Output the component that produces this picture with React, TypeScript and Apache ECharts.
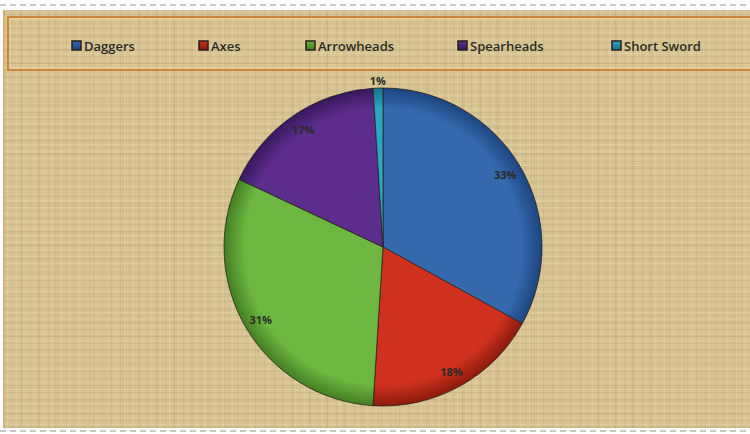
import React, { useEffect, useRef } from "react";
import * as echarts from "echarts";

const categories = ["Daggers", "Axes", "Arrowheads", "Spearheads", "Short Sword"];
const shares = [33, 18, 31, 17, 1];
const baseColors = ["#3568ad", "#cf311e", "#6db741", "#5c2d8d", "#2ca6c4"];
const rimColors = ["#1d4680", "#8c1a0e", "#447f23", "#371a5e", "#16708a"];
const legendLeft = [71, 198, 305, 457, 611];

const CX = 383;
const CY = 247;
const R = 159;

export default function App() {
  const ref = useRef<HTMLDivElement>(null);
  useEffect(() => {
    if (!ref.current) return;
    const chart = echarts.init(ref.current, undefined, { renderer: "svg" });
    const fill = (i: number) => ({
      type: "radial",
      x: CX,
      y: CY,
      r: R,
      global: true,
      colorStops: [
        { offset: 0, color: baseColors[i] },
        { offset: 0.87, color: baseColors[i] },
        { offset: 1, color: rimColors[i] },
      ],
    });
    const legendFill = (i: number) => ({
      type: "linear",
      x: 0,
      y: 0,
      x2: 0,
      y2: 1,
      colorStops: [
        { offset: 0, color: baseColors[i] },
        { offset: 1, color: rimColors[i] },
      ],
    });
    const mainData = categories.map((name, i) => ({
      name,
      value: shares[i],
      itemStyle: { color: fill(i) },
    }));
    const labelData = categories.map((name, i) => ({
      name,
      value: shares[i],
      label: { show: shares[i] >= 5 },
    }));
    const outerLabelData = categories.map((name, i) => ({
      name,
      value: shares[i],
      label: { show: shares[i] < 5 },
    }));
    const labelStyle = {
      position: "inside",
      formatter: "{d}%",
      color: "#2b2a26",
      fontSize: 11,
      fontWeight: "bold",
      fontFamily: "Open Sans",
    };
    chart.setOption({
      animation: false,
      backgroundColor: "transparent",
      legend: categories.map((name, i) => ({
        data: [{ name, itemStyle: { color: legendFill(i) } }],
        left: legendLeft[i],
        top: 39,
        padding: 0,
        itemWidth: 9,
        itemHeight: 9,
        itemGap: 0,
        icon: "rect",
        selectedMode: false,
        textStyle: {
          fontFamily: "Open Sans",
          fontSize: 13,
          fontWeight: 600,
          color: "#2a2b24",
          padding: [0, 0, 0, -2],
        },
      })),
      graphic: [
        {
          type: "line",
          shape: { x1: 0, y1: 5, x2: 750, y2: 5 },
          style: { stroke: "#b8b8b8", lineWidth: 1.5, lineDash: [6, 4] },
          silent: true,
        },
        {
          type: "line",
          shape: { x1: 0, y1: 431, x2: 750, y2: 431 },
          style: { stroke: "#b8b8b8", lineWidth: 1.5, lineDash: [6, 4] },
          silent: true,
        },
        {
          type: "line",
          shape: { x1: 4, y1: 10, x2: 4, y2: 427 },
          style: { stroke: "#e0a560", lineWidth: 1 },
          silent: true,
        },
        {
          type: "rect",
          shape: { x: 8, y: 17, width: 744, height: 53 },
          style: { fill: "transparent", stroke: "#c9873c", lineWidth: 2 },
          silent: true,
        },
        {
          type: "rect",
          shape: { x: 10, y: 19, width: 742, height: 49 },
          style: { fill: "transparent", stroke: "rgba(245,215,150,0.6)", lineWidth: 1 },
          silent: true,
        },
      ],
      series: [
        {
          type: "pie",
          center: [CX, CY],
          radius: R,
          startAngle: 90,
          clockwise: true,
          silent: true,
          label: { show: false },
          labelLine: { show: false },
          itemStyle: { borderColor: "rgba(35,30,25,0.75)", borderWidth: 1 },
          emphasis: { disabled: true },
          data: mainData,
        },
        {
          type: "pie",
          center: [CX, CY],
          radius: [R - 40, R],
          startAngle: 90,
          clockwise: true,
          silent: true,
          itemStyle: { color: "transparent", borderWidth: 0 },
          label: labelStyle,
          labelLine: { show: false },
          emphasis: { disabled: true },
          data: labelData,
        },
        {
          type: "pie",
          center: [CX, CY],
          radius: [R, R + 10],
          startAngle: 90,
          clockwise: true,
          silent: true,
          itemStyle: { color: "transparent", borderWidth: 0 },
          label: labelStyle,
          labelLine: { show: false },
          emphasis: { disabled: true },
          data: outerLabelData,
        },
      ],
    });
    return () => chart.dispose();
  }, []);

  const burlap = [
    "repeating-linear-gradient(0deg, rgba(120,95,50,0.10) 0px, rgba(120,95,50,0.10) 1px, transparent 1px, transparent 3px, rgba(255,245,215,0.16) 3px, rgba(255,245,215,0.16) 4px, transparent 4px, transparent 7px)",
    "repeating-linear-gradient(90deg, rgba(120,95,50,0.09) 0px, rgba(120,95,50,0.09) 1px, transparent 1px, transparent 4px, rgba(255,245,215,0.14) 4px, rgba(255,245,215,0.14) 5px, transparent 5px, transparent 9px)",
    "repeating-linear-gradient(0deg, rgba(100,80,40,0.05) 0px, rgba(100,80,40,0.05) 2px, transparent 2px, transparent 13px)",
    "repeating-linear-gradient(90deg, rgba(100,80,40,0.05) 0px, rgba(100,80,40,0.05) 2px, transparent 2px, transparent 17px)",
  ].join(", ");

  return (
    <div
      style={{
        position: "absolute",
        left: 0,
        top: 0,
        width: 750,
        height: 434,
        background: "#ffffff",
        overflow: "hidden",
      }}
    >
      <div
        style={{
          position: "absolute",
          left: 3,
          top: 10,
          width: 747,
          height: 418,
          backgroundColor: "#d9c494",
          backgroundImage: burlap,
        }}
      />
      <div ref={ref} style={{ position: "absolute", left: 0, top: 0, width: 750, height: 434 }} />
    </div>
  );
}
